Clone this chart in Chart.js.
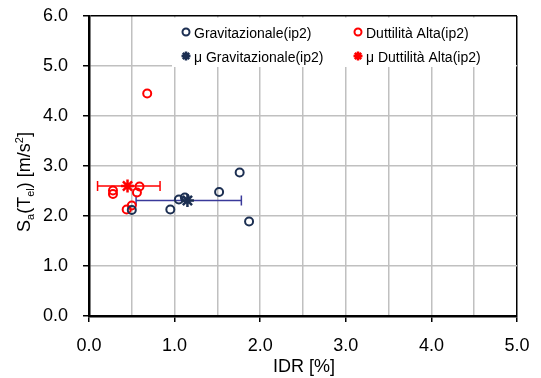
<!DOCTYPE html>
<html>
<head>
<meta charset="utf-8">
<script src="https://cdn.jsdelivr.net/npm/chart.js@4/dist/chart.umd.min.js"></script>
<style>
    html, body { margin: 0; padding: 0; background: #fff; }
    #wrap { width: 541px; height: 378px; }
</style>
</head>
<body>
<div id="wrap"><canvas id="chart" width="541" height="378"></canvas></div>
<script>
// IDR [%] and Sa(Tel) [m/s2] for each record
const gravIdr = [0.50, 0.95, 1.05, 1.12, 1.52, 1.76, 1.87];
const gravSa = [2.12, 2.13, 2.33, 2.37, 2.48, 2.87, 1.89];
const duttIdr = [0.28, 0.28, 0.44, 0.50, 0.56, 0.59, 0.68];
const duttSa = [2.51, 2.44, 2.13, 2.21, 2.47, 2.59, 4.45];

// mean values and the IDR spread around them
const meanGravIdr = [1.15];
const meanGravSa = [2.31];
const meanGravRange = [0.55, 1.78];
const meanDuttIdr = [0.45];
const meanDuttSa = [2.60];
const meanDuttRange = [0.10, 0.83];

const xTicks = [0, 1, 2, 3, 4, 5];
const yTicks = [0, 1, 2, 3, 4, 5, 6];

const NAVY = '#1c2f52';
const RED = '#ff0000';
const FONT = '"Liberation Sans", Arial, sans-serif';

const toPoints = (xs, ys) => xs.map((x, i) => ({ x: x, y: ys[i] }));

// horizontal error bars for the mean markers
const errorBars = {
    id: 'errorBars',
    beforeDatasetsDraw(chart) {
        const { ctx, scales: { x, y } } = chart;
        const bars = [
            { range: meanGravRange, sa: meanGravSa[0], color: '#3a3a9a' },
            { range: meanDuttRange, sa: meanDuttSa[0], color: RED }
        ];
        ctx.save();
        bars.forEach(b => {
            const x1 = x.getPixelForValue(b.range[0]);
            const x2 = x.getPixelForValue(b.range[1]);
            const py = y.getPixelForValue(b.sa);
            ctx.strokeStyle = b.color;
            ctx.lineWidth = 1.5;
            ctx.beginPath();
            ctx.moveTo(x1, py); ctx.lineTo(x2, py);
            ctx.moveTo(x1, py - 5); ctx.lineTo(x1, py + 5);
            ctx.moveTo(x2, py - 5); ctx.lineTo(x2, py + 5);
            ctx.stroke();
        });
        ctx.restore();
    }
};

// two-column legend box in the upper right, plus the axis titles
const boxLegend = {
    id: 'boxLegend',
    afterDraw(chart) {
        const { ctx, chartArea } = chart;
        const ds = chart.data.datasets;
        ctx.save();
        const left = 172, top = chartArea.top + 1.5;
        ctx.fillStyle = '#fff';
        ctx.fillRect(left, top, chartArea.right - 1 - left, 67 - top);

        const cols = [186, 358];
        const rows = [32, 56];
        ctx.textBaseline = 'middle';
        ds.forEach((d, i) => {
            const mx = cols[i % 2], my = rows[Math.floor(i / 2)];
            const round = d.pointStyle === 'circle';
            ctx.fillStyle = '#fff';
            ctx.strokeStyle = d.borderColor;
            ctx.lineWidth = round ? 2 : 2.5;
            Chart.helpers.drawPoint(ctx, {
                pointStyle: d.pointStyle,
                radius: round ? 3.5 : 4.5,
                rotation: 0,
                borderWidth: ctx.lineWidth
            }, mx, my);
            ctx.fillStyle = '#000';
            ctx.font = '14px ' + FONT;
            ctx.fillText(d.label, mx + 8, my + 2);
        });

        // y axis title: Sa(Tel) [m/s2]
        ctx.translate(24, 182);
        ctx.rotate(-Math.PI / 2);
        const parts = [
            ['S', 0, 18], ['a', 4, 11], ['(T', 0, 18], ['el', 4, 11],
            [') [m/s', 0, 18], ['2', -7, 11], [']', 0, 18]
        ];
        let w = 0;
        parts.forEach(p => { ctx.font = p[2] + 'px ' + FONT; w += ctx.measureText(p[0]).width; });
        let cx = -w / 2;
        ctx.fillStyle = '#000';
        ctx.textBaseline = 'alphabetic';
        parts.forEach(p => {
            ctx.font = p[2] + 'px ' + FONT;
            ctx.fillText(p[0], cx, 6 + p[1]);
            cx += ctx.measureText(p[0]).width;
        });
        ctx.restore();

        // x axis title
        ctx.save();
        ctx.font = '18px ' + FONT;
        ctx.fillStyle = '#000';
        ctx.textAlign = 'center';
        ctx.textBaseline = 'middle';
        ctx.fillText('IDR [%]', (chartArea.left + chartArea.right) / 2 + 1, 367);
        ctx.restore();
    }
};

new Chart(document.getElementById('chart'), {
    type: 'scatter',
    data: {
        datasets: [
            {
                label: 'Gravitazionale(ip2)',
                data: toPoints(gravIdr, gravSa),
                pointStyle: 'circle',
                pointRadius: 4,
                borderWidth: 2,
                borderColor: NAVY,
                backgroundColor: 'rgba(255,255,255,0)'
            },
            {
                label: 'Duttilità Alta(ip2)',
                data: toPoints(duttIdr, duttSa),
                pointStyle: 'circle',
                pointRadius: 4,
                borderWidth: 2,
                borderColor: RED,
                backgroundColor: 'rgba(255,255,255,0)'
            },
            {
                label: 'μ Gravitazionale(ip2)',
                data: toPoints(meanGravIdr, meanGravSa),
                pointStyle: 'star',
                pointRadius: 6.5,
                borderWidth: 2.5,
                borderColor: NAVY,
                backgroundColor: NAVY
            },
            {
                label: 'μ Duttilità Alta(ip2)',
                data: toPoints(meanDuttIdr, meanDuttSa),
                pointStyle: 'star',
                pointRadius: 6.5,
                borderWidth: 2.5,
                borderColor: RED,
                backgroundColor: RED
            }
        ]
    },
    options: {
        responsive: false,
        animation: false,
        devicePixelRatio: 1,
        layout: { padding: { top: 16, right: 24, left: 0, bottom: 0 } },
        plugins: {
            legend: { display: false },
            tooltip: { enabled: false }
        },
        scales: {
            x: {
                type: 'linear',
                min: xTicks[0],
                max: xTicks[xTicks.length - 1],
                afterFit: s => { s.height = 62; s.paddingLeft = 0; s.paddingRight = 0; },
                afterBuildTicks: s => {
                    const t = [];
                    for (let v = xTicks[0]; v <= xTicks[xTicks.length - 1]; v += 0.5) t.push({ value: v });
                    s.ticks = t;
                },
                border: { color: '#000', width: 2.5 },
                grid: {
                    color: c => c.tick && c.tick.value === xTicks[xTicks.length - 1] ? '#000' : '#c0c0c0',
                    lineWidth: 1.5,
                    tickColor: c => c.tick && Number.isInteger(c.tick.value) ? '#000' : 'rgba(0,0,0,0)',
                    tickLength: 6,
                    tickWidth: 1.5
                },
                ticks: {
                    autoSkip: false,
                    maxRotation: 0,
                    padding: 13,
                    color: '#000',
                    font: { family: FONT, size: 18 },
                    callback: v => xTicks.includes(v) ? v.toFixed(1) : ''
                }
            },
            y: {
                type: 'linear',
                min: yTicks[0],
                max: yTicks[yTicks.length - 1],
                afterFit: s => { s.width = 89; s.paddingTop = 0; s.paddingBottom = 0; },
                afterBuildTicks: s => { s.ticks = yTicks.map(v => ({ value: v })); },
                border: { color: '#000', width: 2.5 },
                grid: {
                    color: c => c.tick && c.tick.value === yTicks[yTicks.length - 1] ? '#000' : '#c0c0c0',
                    lineWidth: 1.5,
                    tickColor: '#000',
                    tickLength: 6,
                    tickWidth: 1.5
                },
                ticks: {
                    padding: 15,
                    color: '#000',
                    font: { family: FONT, size: 18 },
                    callback: v => v.toFixed(1)
                }
            }
        }
    },
    plugins: [errorBars, boxLegend]
});
</script>
</body>
</html>
